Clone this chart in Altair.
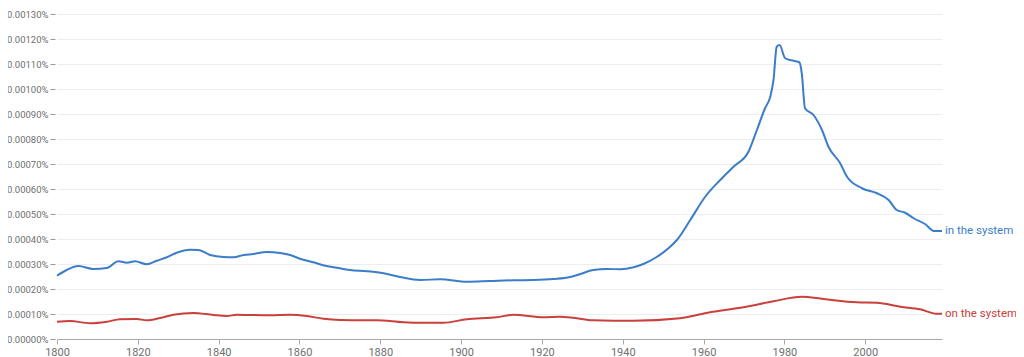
import altair as alt
import pandas as pd

# "in the system" (values in percent)
in_years = [1800, 1802.4, 1805.3, 1809, 1812.3, 1815.2, 1817.3, 1819.3, 1822.2, 1824.7,
            1827.2, 1829.6, 1832.9, 1835, 1837.9, 1841.2, 1843.7, 1846.2, 1848.6, 1851.9,
            1855.2, 1857.7, 1860.1, 1863.4, 1866.7, 1869.2, 1872.5, 1876.7, 1880.8, 1884.9,
            1889.9, 1894.8, 1901.4, 1907.2, 1913, 1917.9, 1922.9, 1927, 1929.5, 1932.7,
            1936.1, 1939.4, 1942.7, 1945.1, 1948.4, 1951.3, 1953.4, 1956.7, 1960.4, 1964.1,
            1967.4, 1971.1, 1973.2, 1975.2, 1976.5, 1977.3, 1978.1, 1978.8, 1980.2, 1982.3,
            1983.7, 1984.3, 1985.1, 1987.2, 1989.3, 1990.9, 1993.8, 1995.5, 1999.2, 2002.9,
            2005.8, 2007.8, 2009.9, 2012, 2014.9, 2017, 2019]
in_values = [0.000253, 0.000276, 0.000292, 0.000280, 0.000284, 0.000311, 0.000305, 0.000311, 0.000299, 0.000313,
             0.000327, 0.000345, 0.000357, 0.000356, 0.000336, 0.000328, 0.000327, 0.000336, 0.000340, 0.000348,
             0.000344, 0.000336, 0.000321, 0.000307, 0.000292, 0.000285, 0.000276, 0.000271, 0.000263, 0.000248,
             0.000236, 0.000239, 0.000229, 0.000232, 0.000235, 0.000236, 0.000240, 0.000248, 0.000260, 0.000276,
             0.000280, 0.000279, 0.000287, 0.000300, 0.000328, 0.000363, 0.000396, 0.000476, 0.000569, 0.000636,
             0.000689, 0.000749, 0.000836, 0.000923, 0.000969, 0.001036, 0.001169, 0.001176, 0.001123, 0.001113,
             0.001107, 0.001063, 0.000923, 0.000896, 0.000836, 0.000769, 0.000703, 0.000649, 0.000603, 0.000583,
             0.000556, 0.000516, 0.000505, 0.000483, 0.000459, 0.000432, 0.000432]

# "on the system"
on_years = [1800, 1803.2, 1808.2, 1812.3, 1815.6, 1819.7, 1822.2, 1825.5, 1828.8, 1833.7,
            1838.7, 1842, 1844.5, 1847.8, 1852.7, 1857.7, 1861.8, 1865.9, 1870, 1875.8,
            1879.1, 1885.7, 1890.7, 1895.6, 1901.4, 1908.8, 1913, 1920.4, 1924.5, 1927.8,
            1932.7, 1942.6, 1954.2, 1961.6, 1969.9, 1977.3, 1984.3, 1989.7, 1997.9, 2002.9,
            2008.7, 2013.6, 2017.7, 2019]
on_values = [0.000069, 0.000072, 0.000063, 0.000069, 0.000079, 0.000080, 0.000075, 0.000084, 0.000097, 0.000104,
             0.000096, 0.000092, 0.000097, 0.000096, 0.000095, 0.000097, 0.000092, 0.000081, 0.000076, 0.000075,
             0.000075, 0.000067, 0.000065, 0.000065, 0.000079, 0.000087, 0.000097, 0.000087, 0.000089, 0.000085,
             0.000075, 0.000073, 0.000083, 0.000107, 0.000127, 0.000151, 0.000169, 0.000160, 0.000147, 0.000145,
             0.000129, 0.000119, 0.000101, 0.000101]

y_ticks = [0.0, 0.0001, 0.0002, 0.0003, 0.0004, 0.0005, 0.0006, 0.0007,
           0.0008, 0.0009, 0.0010, 0.0011, 0.0012, 0.0013]
x_ticks = [1800, 1820, 1840, 1860, 1880, 1900, 1920, 1940, 1960, 1980, 2000]

series_names = ["in the system", "on the system"]
series_colors = ["#3b7dc8", "#c9403c"]

df = pd.concat([
    pd.DataFrame({"year": in_years, "value": in_values, "series": series_names[0]}),
    pd.DataFrame({"year": on_years, "value": on_values, "series": series_names[1]}),
])
last = pd.DataFrame({
    "year": [in_years[-1], on_years[-1]],
    "value": [in_values[-1], on_values[-1]],
    "series": series_names,
})

FONT = "Roboto"
color = alt.Color("series:N", scale=alt.Scale(domain=series_names, range=series_colors), legend=None)

x = alt.X("year:Q", scale=alt.Scale(domain=[1800, 2019], nice=False, zero=False),
          axis=alt.Axis(title=None, values=x_ticks, format="d",
                        grid=False, domainColor="#aaaaaa", tickColor="#aaaaaa", tickSize=5,
                        labelColor="#6f6f6f", labelFontSize=11, labelFont=FONT, labelPadding=2,
                        labelFlush=False))
y = alt.Y("value:Q", scale=alt.Scale(domain=[0, 0.0013], nice=False),
          axis=alt.Axis(title=None, values=y_ticks,
                        labelExpr="format(datum.value, '.5f') + '%'",
                        domain=False, tickColor="#999999", tickSize=5, offset=2,
                        gridColor="#eeeeee", labelColor="#6f6f6f", labelFontSize=9.5,
                        labelFont=FONT, labelPadding=2, labelOverlap=False, labelBound=False))

lines = alt.Chart(df).mark_line(strokeWidth=2, interpolate="monotone").encode(
    x=x, y=y, color=color, detail="series:N")

labels = alt.Chart(last).mark_text(align="left", baseline="middle", dx=3, fontSize=11.5, font=FONT).encode(
    x=x, y=y, text="series:N", color=color)

chart = alt.layer(lines, labels).properties(
    width=885, height=325,
    autosize=alt.AutoSizeParams(type="none"),
    padding={"left": 49, "top": 6, "right": 74, "bottom": 18},
).configure_view(stroke=None)

chart.save("out.html", embed_options={"renderer": "svg", "actions": False})
